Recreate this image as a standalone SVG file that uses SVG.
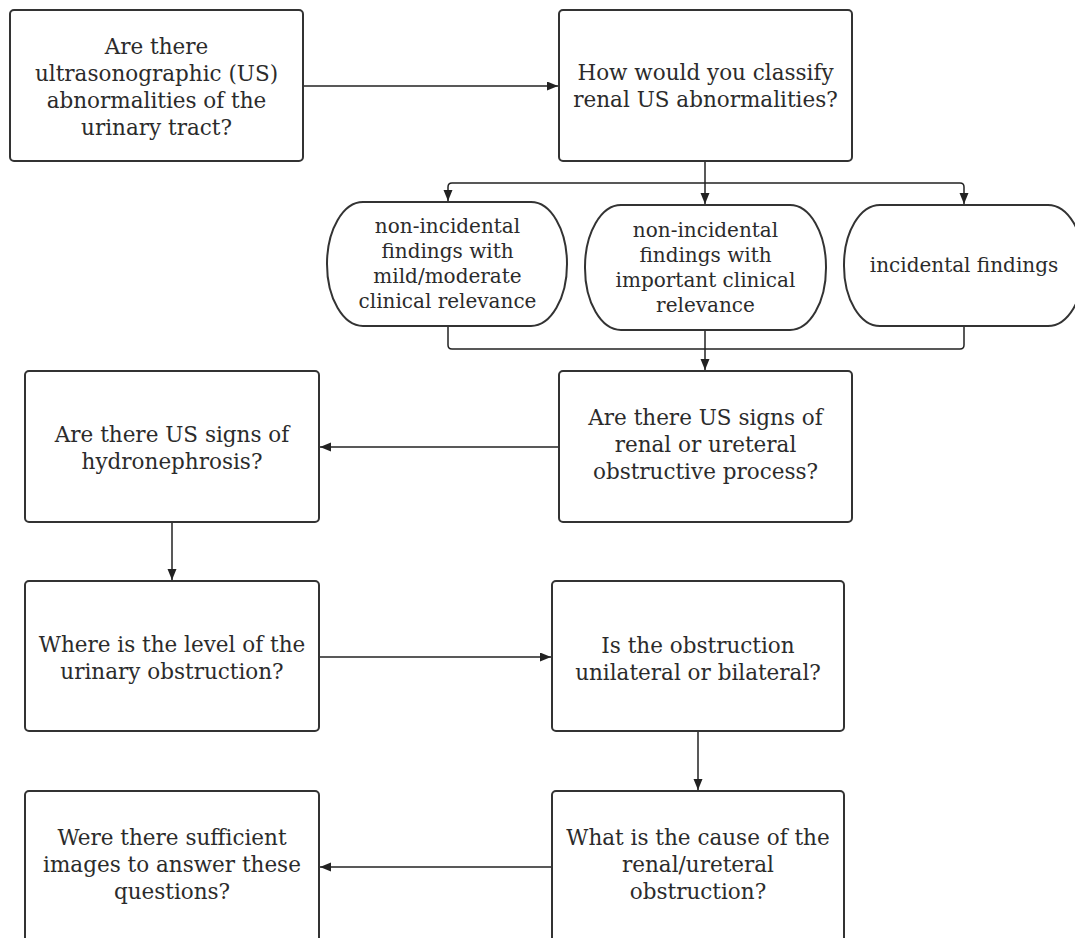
<svg xmlns="http://www.w3.org/2000/svg" width="1075" height="938" viewBox="0 0 1075 938">
<style>
.box{fill:#fff;stroke:#333;stroke-width:2}
.t{font-family:"DejaVu Serif","Liberation Serif",serif;font-size:21.5px;fill:#2b2b2b;text-anchor:middle}
.ts{font-family:"DejaVu Serif","Liberation Serif",serif;font-size:20px;fill:#2b2b2b;text-anchor:middle}
.c{fill:none;stroke:#222;stroke-width:1.5}
</style>
<defs>
<marker id="ah" markerUnits="userSpaceOnUse" markerWidth="12" markerHeight="10" refX="11" refY="4.5" orient="auto">
<path d="M0,0 L11,4.5 L0,9 z" fill="#222"/>
</marker>
</defs>
<rect width="1075" height="938" fill="#fff"/>
<g id="connectors">
<path class="c" d="M303,86 H558" marker-end="url(#ah)"/>
<path class="c" d="M705,161 V204" marker-end="url(#ah)"/>
<path class="c" d="M705,183 H452 Q448,183 448,187 V201" marker-end="url(#ah)"/>
<path class="c" d="M705,183 H960 Q964,183 964,187 V204" marker-end="url(#ah)"/>
<path class="c" d="M448,326 V345 Q448,349 452,349 H705"/>
<path class="c" d="M964,326 V345 Q964,349 960,349 H705"/>
<path class="c" d="M705,330 V370" marker-end="url(#ah)"/>
<path class="c" d="M559,447 H320" marker-end="url(#ah)"/>
<path class="c" d="M172,522 V580" marker-end="url(#ah)"/>
<path class="c" d="M319,657 H551" marker-end="url(#ah)"/>
<path class="c" d="M698,731 V790" marker-end="url(#ah)"/>
<path class="c" d="M552,867 H320" marker-end="url(#ah)"/>
</g>
<g id="n1">
<rect class="box" x="10" y="10" width="293" height="151" rx="4"/>
<text class="t" x="156.5" y="54">Are there</text>
<text class="t" x="156.5" y="81">ultrasonographic (US)</text>
<text class="t" x="156.5" y="108">abnormalities of the</text>
<text class="t" x="156.5" y="135">urinary tract?</text>
</g>
<g id="n2">
<rect class="box" x="559" y="10" width="293" height="151" rx="4"/>
<text class="t" x="705.5" y="80">How would you classify</text>
<text class="t" x="705.5" y="107">renal US abnormalities?</text>
</g>
<g id="s1">
<rect class="box" x="327" y="202" width="240" height="124" rx="36" ry="62"/>
<text class="ts" x="447.5" y="233">non-incidental</text>
<text class="ts" x="447.5" y="258">findings with</text>
<text class="ts" x="447.5" y="283">mild/moderate</text>
<text class="ts" x="447.5" y="308">clinical relevance</text>
</g>
<g id="s2">
<rect class="box" x="585" y="205" width="241" height="125" rx="36" ry="62"/>
<text class="ts" x="705.5" y="237">non-incidental</text>
<text class="ts" x="705.5" y="262">findings with</text>
<text class="ts" x="705.5" y="287">important clinical</text>
<text class="ts" x="705.5" y="312">relevance</text>
</g>
<g id="s3">
<rect class="box" x="844" y="205" width="240" height="121" rx="36" ry="60"/>
<text class="ts" x="964" y="272">incidental findings</text>
</g>
<g id="n3">
<rect class="box" x="25" y="371" width="294" height="151" rx="4"/>
<text class="t" x="172" y="442">Are there US signs of</text>
<text class="t" x="172" y="469">hydronephrosis?</text>
</g>
<g id="n4">
<rect class="box" x="559" y="371" width="293" height="151" rx="4"/>
<text class="t" x="705.5" y="425">Are there US signs of</text>
<text class="t" x="705.5" y="452">renal or ureteral</text>
<text class="t" x="705.5" y="479">obstructive process?</text>
</g>
<g id="n5">
<rect class="box" x="25" y="581" width="294" height="150" rx="4"/>
<text class="t" x="172" y="652">Where is the level of the</text>
<text class="t" x="172" y="679">urinary obstruction?</text>
</g>
<g id="n6">
<rect class="box" x="552" y="581" width="292" height="150" rx="4"/>
<text class="t" x="698" y="653">Is the obstruction</text>
<text class="t" x="698" y="680">unilateral or bilateral?</text>
</g>
<g id="n7">
<rect class="box" x="25" y="791" width="294" height="160" rx="4"/>
<text class="t" x="172" y="845">Were there sufficient</text>
<text class="t" x="172" y="872">images to answer these</text>
<text class="t" x="172" y="899">questions?</text>
</g>
<g id="n8">
<rect class="box" x="552" y="791" width="292" height="160" rx="4"/>
<text class="t" x="698" y="845">What is the cause of the</text>
<text class="t" x="698" y="872">renal/ureteral</text>
<text class="t" x="698" y="899">obstruction?</text>
</g>
</svg>
